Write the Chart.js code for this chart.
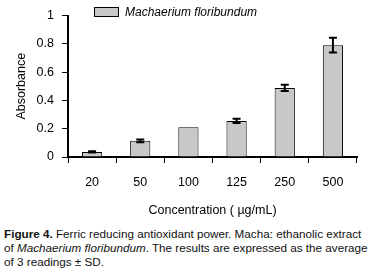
<!DOCTYPE html>
<html>
<head>
<meta charset="utf-8">
<script src="https://cdn.jsdelivr.net/npm/chart.js@4/dist/chart.umd.min.js"></script>
<style>
  body { margin:0; background:#fff; font-family:"Liberation Sans", Arial, sans-serif; }
  #wrap { position:relative; width:373px; height:274px; overflow:hidden; }
  #legend { position:absolute; left:94px; top:5px; font-size:12px; font-style:italic; color:#000; white-space:nowrap; }
  #legend span.box { display:inline-block; width:23px; height:8px; background:#c8c8c8; border:1px solid #000; vertical-align:-1px; margin-right:6px; }
  #caption { position:absolute; left:4px; top:227px; font-size:11.7px; line-height:14px; color:#111; white-space:nowrap; }
</style>
</head>
<body>
<div id="wrap">
  <canvas id="chart" width="373" height="220"></canvas>
  <div id="legend"><span class="box"></span>Machaerium floribundum</div>
  <div id="caption"><b>Figure 4.</b> Ferric reducing antioxidant power. Macha: ethanolic extract<br>of <i>Machaerium floribundum</i>. The results are expressed as the average<br>of 3 readings ± SD.</div>
</div>
<script>
const concentrations = ["20", "50", "100", "125", "250", "500"];
const absorbance = [0.036, 0.114, 0.21, 0.255, 0.488, 0.79];
const sd = [0.004, 0.01, 0, 0.015, 0.022, 0.052];

// error bars drawn with the chart's own scales
const errorBars = {
  id: 'errorBars',
  afterDatasetsDraw(chart) {
    const ctx = chart.ctx;
    const x = chart.scales.x, y = chart.scales.y;
    ctx.save();
    ctx.strokeStyle = '#000';
    ctx.lineWidth = 2;
    absorbance.forEach(function (v, i) {
      if (!sd[i]) return;
      const cx = x.getPixelForValue(i);
      const top = y.getPixelForValue(v + sd[i]);
      const bot = y.getPixelForValue(v - sd[i]);
      ctx.beginPath();
      ctx.moveTo(cx, top); ctx.lineTo(cx, bot);
      ctx.moveTo(cx - 4, top); ctx.lineTo(cx + 4, top);
      ctx.moveTo(cx - 4, bot); ctx.lineTo(cx + 4, bot);
      ctx.stroke();
    });
    ctx.restore();
  }
};

new Chart(document.getElementById('chart'), {
  type: 'bar',
  data: {
    labels: concentrations,
    datasets: [{
      label: 'Machaerium floribundum',
      data: absorbance,
      backgroundColor: '#c8c8c8',
      borderColor: '#000',
      borderWidth: 1,
      categoryPercentage: 1,
      barPercentage: 0.42
    }]
  },
  options: {
    responsive: false,
    animation: false,
    layout: { padding: { top: 11, right: 16, left: 0, bottom: 0 } },
    plugins: { legend: { display: false }, tooltip: { enabled: false } },
    scales: {
      y: {
        min: 0, max: 1,
        afterFit: function (s) { s.width = 68; },
        ticks: {
          stepSize: 0.2, color: '#000', padding: 8,
          font: { family: 'Liberation Sans', size: 12.5 },
          callback: function (v) { return String(Math.round(v * 10) / 10); }
        },
        grid: { drawOnChartArea: false, tickLength: 6, tickColor: '#000', tickWidth: 1 },
        border: { color: '#000', width: 2 },
        title: { display: true, text: 'Absorbance', color: '#000', padding: { top: 14, bottom: 0 }, font: { family: 'Liberation Sans', size: 12.5 } }
      },
      x: {
        afterFit: function (s) { s.height = 63; },
        ticks: { color: '#000', padding: 12, font: { family: 'Liberation Sans', size: 12.5 } },
        grid: { drawOnChartArea: false, tickLength: 6, tickColor: '#000', tickWidth: 1 },
        border: { color: '#000', width: 2 },
        title: { display: true, text: 'Concentration ( µg/mL)', color: '#000', padding: { top: 0, bottom: 2 }, font: { family: 'Liberation Sans', size: 12.5 } }
      }
    }
  },
  plugins: [errorBars]
});
</script>
</body>
</html>
